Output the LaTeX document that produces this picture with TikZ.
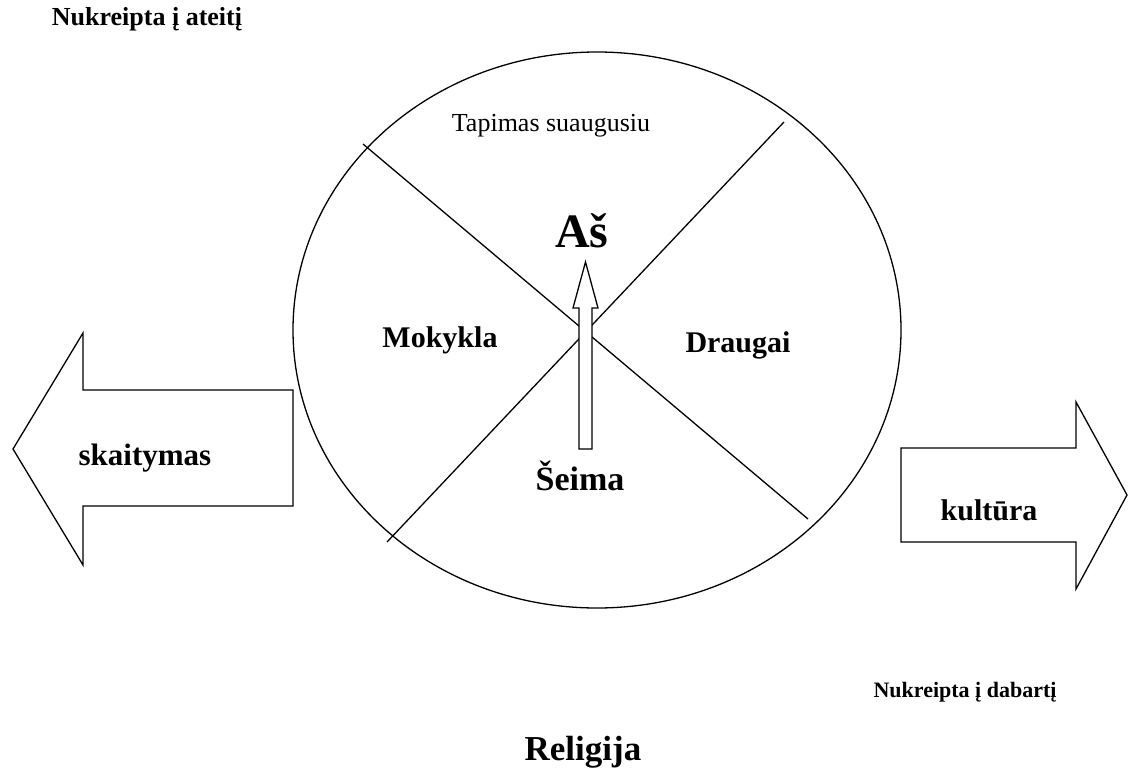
\documentclass[tikz,border=0pt]{standalone}
\usepackage{fontspec}
\setmainfont{Liberation Serif}
\begin{document}
\begin{tikzpicture}[x=1pt,y=-1pt,
  shape line/.style={draw=black,line width=1.3pt,line join=miter},
  lbl/.style={inner sep=0pt,anchor=base,font=\bfseries\fontsize{#1}{#1}\selectfont},
  plainlbl/.style={inner sep=0pt,anchor=base,font=\fontsize{#1}{#1}\selectfont}]
\useasboundingbox (0,0) rectangle (1129,778);
% circle
\coordinate (c) at (597,330);
\draw[shape line] (c) ellipse [x radius=304, y radius=278];
% dividing lines
\coordinate (l1a) at (363,144);
\coordinate (l1b) at (808,519);
\coordinate (l2a) at (784,122);
\coordinate (l2b) at (387,542);
\draw[shape line] (l1a) -- (l1b);
\draw[shape line] (l2a) -- (l2b);
% up arrow
\draw[shape line,fill=white] (579,449) -- (579,308) -- (573,308) -- (585.5,262) -- (598,308) -- (592,308) -- (592,449) -- cycle;
% left arrow
\draw[shape line,fill=white] (13,449) -- (83,333) -- (83,390) -- (293,390) -- (293,506) -- (83,506) -- (83,565) -- cycle;
% right arrow
\draw[shape line,fill=white] (901,448) -- (1076,448) -- (1076,402) -- (1127,495) -- (1076,589) -- (1076,542) -- (901,542) -- cycle;
% texts
\node[lbl=26] (ateiti) at (147,26) {Nukreipta į ateitį};
\node[plainlbl=26] (tapimas) at (551,132) {Tapimas suaugusiu};
\node[lbl=48] (as) at (582,247) {Aš};
\node[lbl=30] (mokykla) at (440,347) {Mokykla};
\node[lbl=30] (draugai) at (738,352) {Draugai};
\node[lbl=31] (skaitymas) at (145,465) {skaitymas};
\node[lbl=34] (seima) at (580,490) {Šeima};
\node[lbl=30] (kultura) at (989,520) {kultūra};
\node[lbl=22] (dabarti) at (965,697) {Nukreipta į dabartį};
\node[lbl=35] (religija) at (583,760) {Religija};
\end{tikzpicture}
\end{document}
